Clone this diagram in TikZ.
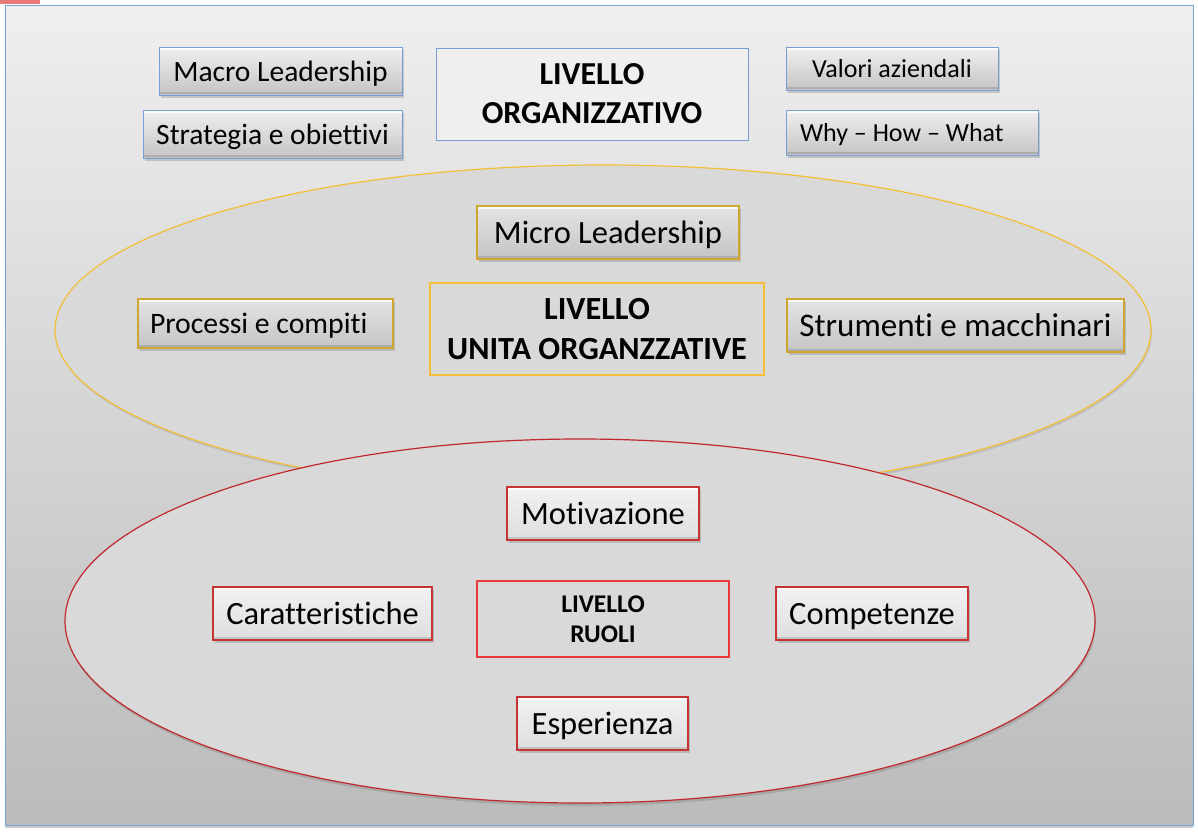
\documentclass[tikz,border=0pt]{standalone}
\usepackage{fontspec}
\setmainfont{Carlito}[Ligatures=NoCommon]
\usetikzlibrary{shadows}
\definecolor{frameblue}{RGB}{120,160,218}
\definecolor{boxblue}{RGB}{118,158,218}
\definecolor{boxgold}{RGB}{206,166,48}
\definecolor{ellgold}{RGB}{242,192,55}
\definecolor{ellred}{RGB}{192,40,45}
\definecolor{boxred}{RGB}{200,50,50}
\definecolor{lvred}{RGB}{232,60,60}
\definecolor{bgtop}{RGB}{239,239,239}
\definecolor{bgbot}{RGB}{187,187,187}
\definecolor{ellfill}{RGB}{217,217,217}
\definecolor{btop}{RGB}{240,240,240}
\definecolor{bbot}{RGB}{196,196,196}
\definecolor{rtop}{RGB}{242,242,242}
\definecolor{rbot}{RGB}{222,222,222}
\definecolor{marker}{RGB}{230,120,120}
\tikzset{
  sh/.style={drop shadow={opacity=0.35,shadow xshift=1.5pt,shadow yshift=-2.5pt}},
  bevel/.style={path picture={
     \draw[white,opacity=0.85,line width=2.5pt] ([yshift=-2pt]path picture bounding box.north west) -- ([yshift=-2pt]path picture bounding box.north east);
     \draw[black,opacity=0.12,line width=2.5pt] ([yshift=2pt]path picture bounding box.south west) -- ([yshift=2pt]path picture bounding box.south east);}},
  gbox/.style={rectangle,inner sep=0pt,text depth=0pt,top color=btop,bottom color=bbot,sh,bevel,line width=1pt},
  bluebox/.style={gbox,draw=boxblue},
  goldbox/.style={gbox,draw=boxgold,line width=1.3pt,top color={rgb,255:red,228;green,228;blue,228},bottom color={rgb,255:red,196;green,196;blue,196}},
  redbox/.style={rectangle,inner sep=0pt,text depth=0pt,top color=rtop,bottom color=rbot,sh,bevel,draw=boxred,line width=1.5pt},
  lvbox/.style={rectangle,inner sep=0pt,align=center},
}
\begin{document}
\begin{tikzpicture}[x=1pt,y=-1pt]
\useasboundingbox (0,0) rectangle (1198,831);
% background frame
\fill[marker] (0,0) rectangle (40,3.5);
\shade[top color=bgtop,bottom color=bgbot,drop shadow={opacity=0.4,shadow xshift=0pt,shadow yshift=-3pt}] (5,5) rectangle (1193,825);
\draw[frameblue,line width=1pt] (5,5) rectangle (1193,825);
% ellipses
\fill[ellfill,drop shadow={opacity=0.25,shadow xshift=1pt,shadow yshift=-2.5pt}] (603,330) ellipse [x radius=548pt,y radius=165pt];
\draw[ellgold,line width=1.2pt] (603,330) ellipse [x radius=548pt,y radius=165pt];
\fill[ellfill,drop shadow={opacity=0.35,shadow xshift=1pt,shadow yshift=-3pt}] (580,621) ellipse [x radius=515pt,y radius=182pt];
\draw[ellred,line width=1.2pt] (580,621) ellipse [x radius=515pt,y radius=182pt];
% organisational level
\node[bluebox,minimum width=243pt,minimum height=48pt,font=\fontsize{29.5}{36}\selectfont] (macro) at (280.5,71) {Macro Leadership};
\node[bluebox,minimum width=259pt,minimum height=48pt,font=\fontsize{29.5}{36}\selectfont] (strat) at (272.5,134) {Strategia e obiettivi};
\node[lvbox,draw=boxblue,line width=1pt,fill=bgtop,minimum width=312pt,minimum height=92pt,font=\bfseries\fontsize{32}{39}\selectfont] (org) at (592,94) {LIVELLO\\ORGANIZZATIVO};
\node[bluebox,minimum width=212pt,minimum height=43pt,font=\fontsize{26}{32}\selectfont] (valori) at (892,68.5) {Valori aziendali};
\node[bluebox,minimum width=252pt,minimum height=45pt,font=\fontsize{26}{32}\selectfont] (why) at (912,132.5) {\makebox[224pt][l]{Why -- How -- What}};
% unit level
\node[goldbox,minimum width=262pt,minimum height=53pt,font=\fontsize{32.5}{39}\selectfont] (micro) at (608,232.5) {Micro Leadership};
\node[goldbox,minimum width=255pt,minimum height=49pt,font=\fontsize{29.7}{36}\selectfont] (proc) at (265.5,323.5) {\makebox[231pt][l]{Processi e compiti}};
\node[lvbox,draw=ellgold,line width=1.6pt,minimum width=334pt,minimum height=92pt,font=\bfseries\fontsize{32.3}{39.5}\selectfont] (unita) at (597,329) {LIVELLO\\UNITA ORGANZZATIVE};
\node[goldbox,minimum width=337pt,minimum height=53pt,font=\fontsize{33}{40}\selectfont] (strum) at (955.5,325.5) {Strumenti e macchinari};
% role level
\node[redbox,minimum width=192pt,minimum height=53pt,font=\fontsize{32.5}{39}\selectfont] (motiv) at (603,513.5) {Motivazione};
\node[redbox,minimum width=219pt,minimum height=53pt,font=\fontsize{32.5}{39}\selectfont] (caratt) at (322.5,613.5) {Caratteristiche};
\node[lvbox,draw=lvred,line width=1.3pt,minimum width=252pt,minimum height=76pt,font=\bfseries\fontsize{25.5}{30}\selectfont] (ruoli) at (603,619) {LIVELLO\\RUOLI};
\node[redbox,minimum width=192pt,minimum height=53pt,font=\fontsize{32.5}{39}\selectfont] (comp) at (872,613.5) {Competenze};
\node[redbox,minimum width=171pt,minimum height=53pt,font=\fontsize{32.5}{39}\selectfont] (esper) at (602.5,723.5) {Esperienza};
\end{tikzpicture}
\end{document}
